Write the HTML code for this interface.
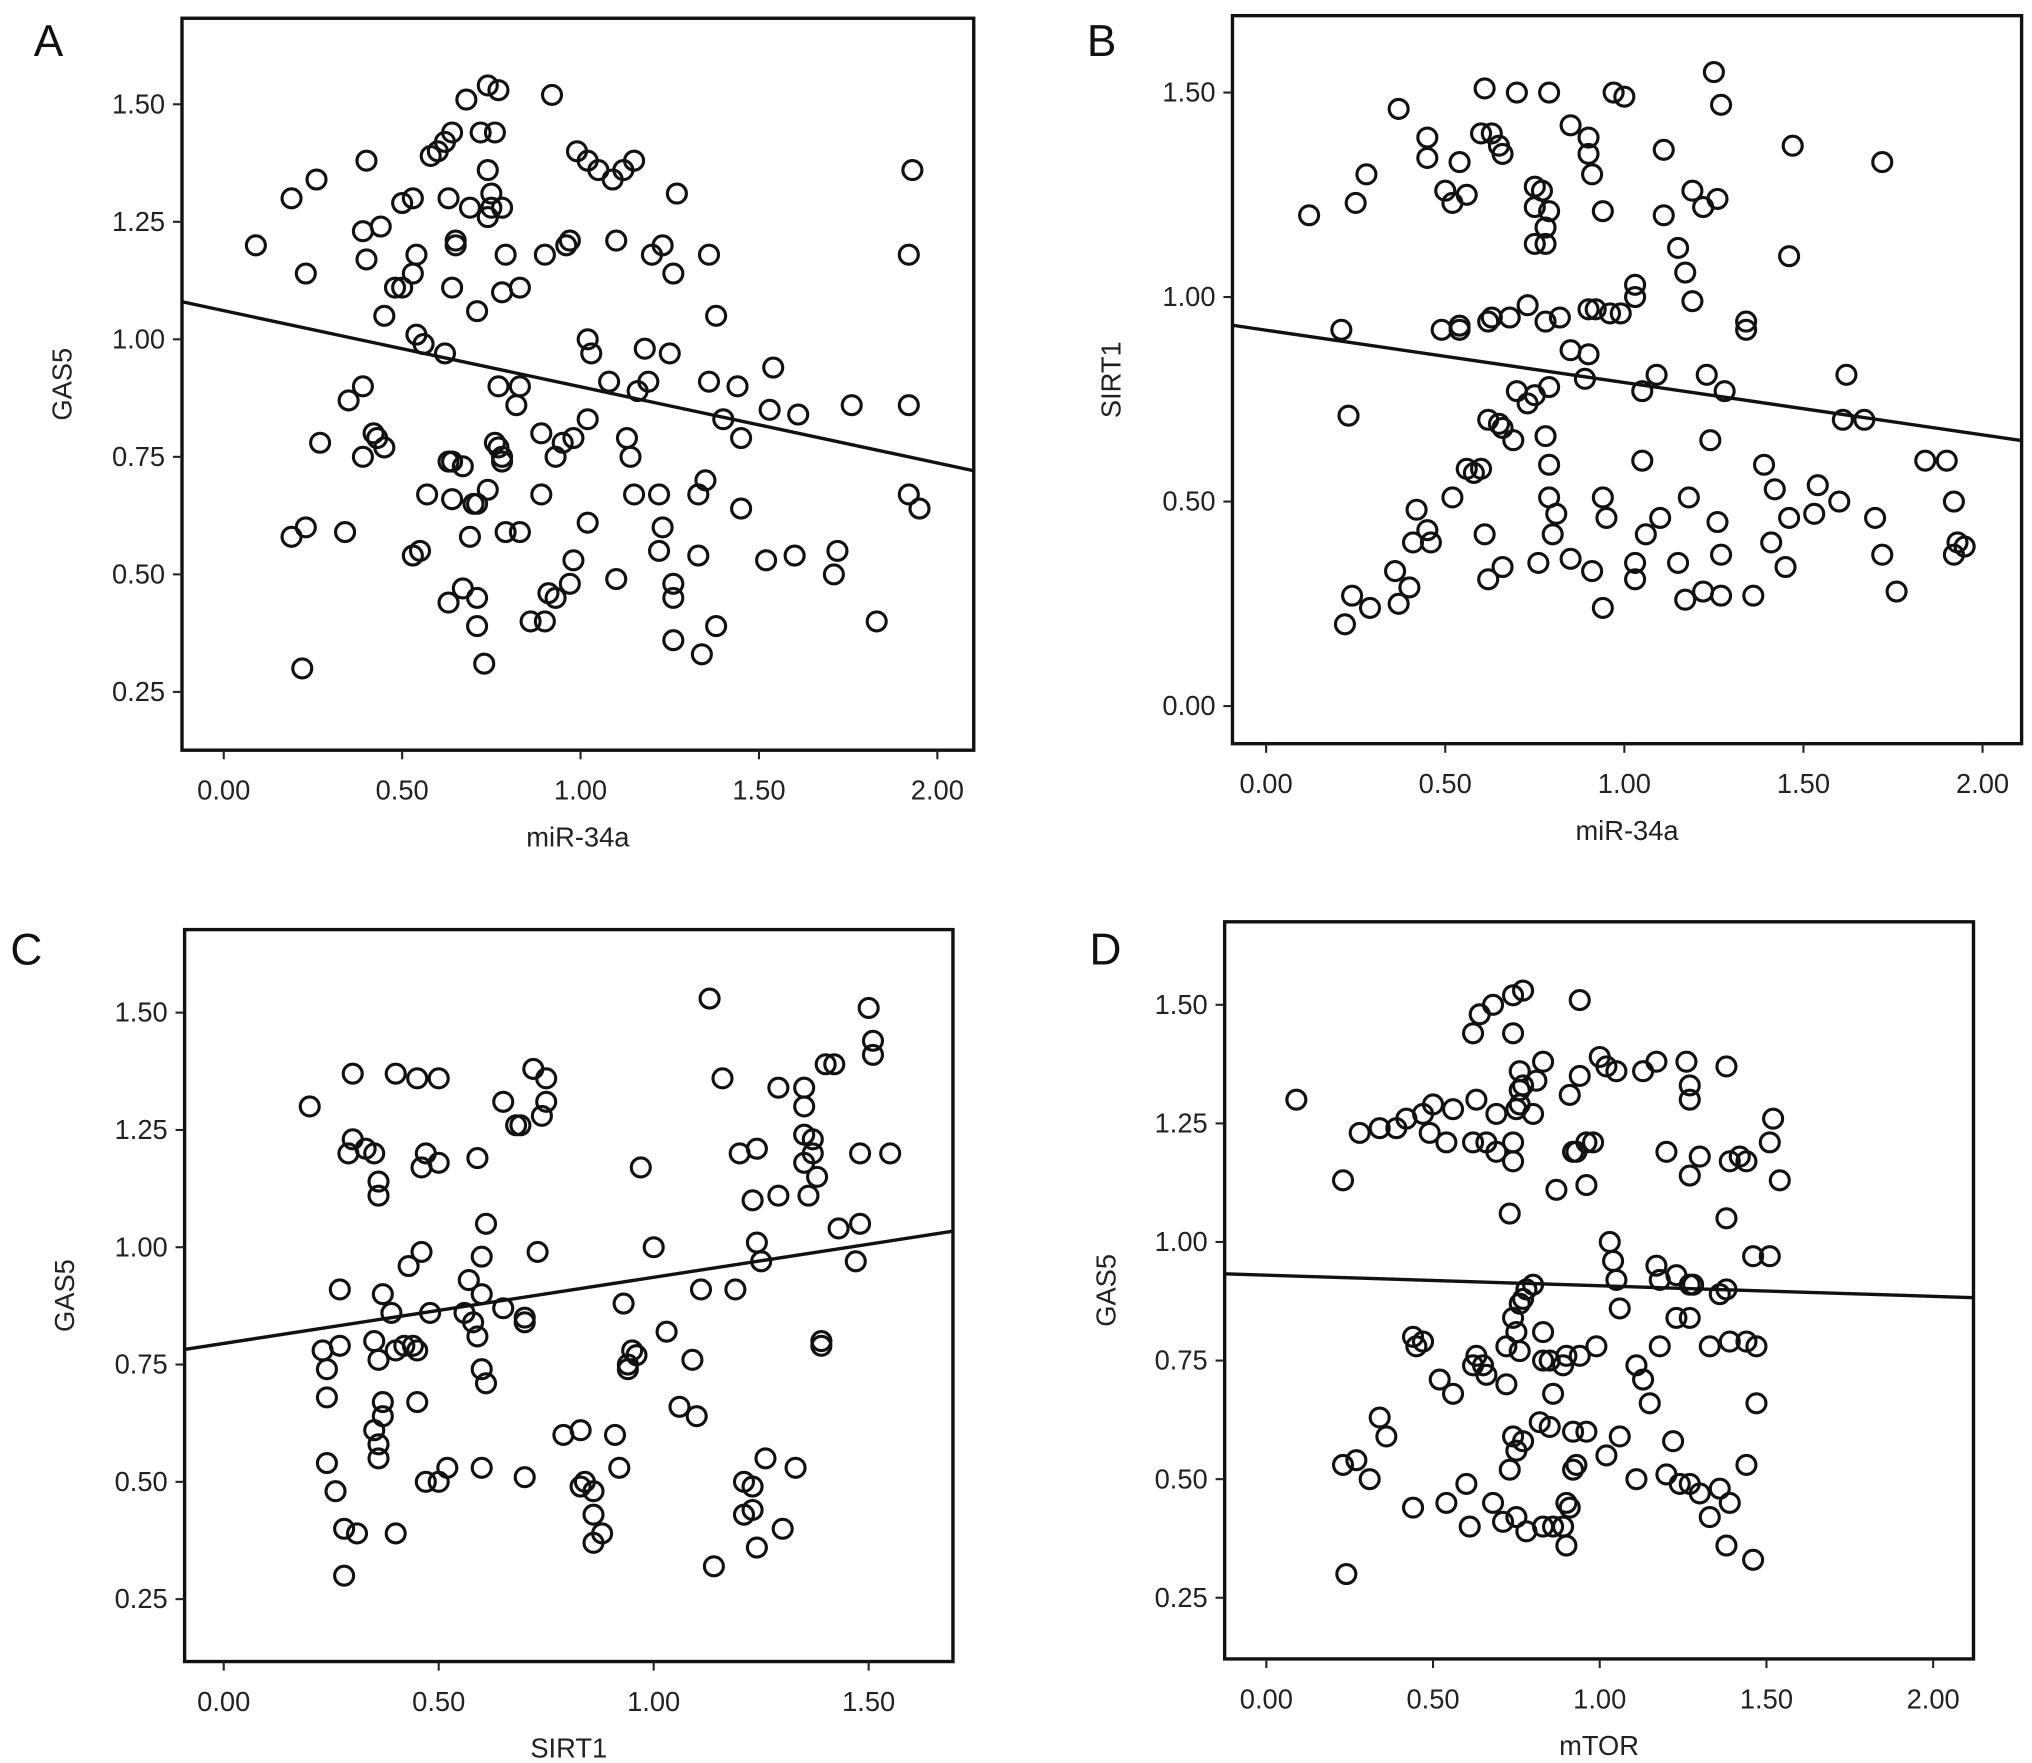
<!DOCTYPE html>
<html><head><meta charset="utf-8"><style>
html,body{margin:0;padding:0;background:#fff;}
svg{display:block;font-family:"Liberation Sans",Arial,sans-serif;}
</style></head><body>
<svg id="fig" xmlns="http://www.w3.org/2000/svg" width="2032" height="1763" viewBox="0 0 1563 1356">
<rect x="0" y="0" width="1563" height="1356" fill="#fff"/>
</svg>
<script>
// ---------- Panel A: GAS5 vs miR-34a ----------
const aX=[.09,.19,.26,.23,.40,.40,.39,.44,.45,.50,.48,.50,.53,.54,.53,.58,.60,.62,.64,.68,.74,.77,.72,.76,.74,.75,.75,.74,.78,.69,.63,.65,.65,.54,.56,.62,.64,.71,.78,.83,.77,.83,.79,.92,.99,1.02,1.05,1.09,1.15,1.12,.90,.96,.97,1.10,1.20,1.23,1.26,1.27,1.36,1.38,1.02,1.03,1.08,1.18,1.19,1.16,1.25,1.36,1.40,1.44,1.45,1.54,1.53,1.61,1.76,1.92,1.93,1.92,1.92,1.95,.39,.27,.35,.39,.42,.43,.45,.57,.63,.64,.67,.70,.74,.78,.76,.77,.78,.82,.89,.93,.95,.98,1.02,1.13,1.14,1.15,1.22,1.23,1.22,1.26,1.26,1.33,1.45,1.35,.89,.83,.79,.71,.69,.67,.64,.55,.53,.23,.19,.34,.22,.71,.71,.63,.73,.86,.90,.91,.93,.97,1.02,1.10,1.26,1.38,1.34,1.52,1.60,1.71,1.72,1.83,1.33,.98];
const aY=[1.20,1.30,1.34,1.14,1.38,1.17,1.23,1.24,1.05,1.11,1.11,1.29,1.30,1.18,1.14,1.39,1.40,1.42,1.44,1.51,1.54,1.53,1.44,1.44,1.36,1.31,1.28,1.26,1.28,1.28,1.30,1.21,1.20,1.01,.99,.97,1.11,1.06,1.10,1.11,.90,.90,1.18,1.52,1.40,1.38,1.36,1.34,1.38,1.36,1.18,1.20,1.21,1.21,1.18,1.20,1.14,1.31,1.18,1.05,1.00,.97,.91,.98,.91,.89,.97,.91,.83,.90,.79,.94,.85,.84,.86,1.18,1.36,.86,.67,.64,.75,.78,.87,.90,.80,.79,.77,.67,.74,.74,.73,.65,.68,.74,.78,.77,.75,.86,.80,.75,.78,.79,.83,.79,.75,.67,.67,.60,.55,.48,.45,.54,.64,.70,.67,.59,.59,.65,.58,.47,.66,.55,.54,.60,.58,.59,.30,.45,.39,.44,.31,.40,.40,.46,.45,.48,.61,.49,.36,.39,.33,.53,.54,.50,.55,.40,.67,.53];
// ---------- Panel B: SIRT1 vs miR-34a ----------
const bX=[.12,.21,.23,.25,.28,.22,.24,.29,.36,.37,.40,.41,.42,.45,.46,.37,.45,.45,.54,.50,.52,.56,.49,.54,.52,.56,.58,.60,.61,.60,.63,.65,.66,.70,.75,.75,.77,.78,.79,.78,.75,.79,.85,.90,.90,.91,.94,.97,1.00,1.03,1.03,1.09,1.05,.99,.96,.92,.90,.85,.90,.89,.82,.78,.73,.68,.63,.62,.54,.62,.70,.75,.73,.66,.69,.65,.79,.78,.79,.81,.79,.61,.62,.66,.76,.80,.85,.91,.95,.94,.94,1.06,1.03,1.03,1.10,1.18,1.15,1.17,1.22,1.05,1.11,1.15,1.11,1.17,1.19,1.19,1.22,1.25,1.27,1.26,1.23,1.24,1.28,1.34,1.34,1.26,1.27,1.27,1.36,1.39,1.41,1.42,1.45,1.47,1.46,1.46,1.54,1.53,1.60,1.62,1.61,1.70,1.72,1.72,1.67,1.84,1.76,1.92,1.92,1.93,1.95,1.90];
const bY=[1.20,.92,.71,1.23,1.30,.20,.27,.24,.33,.25,.29,.40,.48,.43,.40,1.46,1.39,1.34,1.33,1.26,1.23,1.25,.92,.92,.51,.58,.57,.58,1.51,1.40,1.40,1.37,1.35,1.50,1.27,1.22,1.26,1.17,1.21,1.13,1.13,1.50,1.42,1.39,1.35,1.30,1.21,1.50,1.49,1.03,1.00,.81,.77,.96,.96,.97,.97,.87,.86,.80,.95,.94,.98,.95,.95,.94,.93,.70,.77,.76,.74,.68,.65,.69,.78,.66,.59,.47,.51,.42,.31,.34,.35,.42,.36,.33,.46,.51,.24,.42,.31,.35,.46,.51,.35,.26,.28,.60,1.36,1.12,1.20,1.06,.99,1.26,1.22,1.55,1.47,1.24,.81,.65,.77,.94,.92,.45,.37,.27,.27,.59,.40,.53,.34,1.37,1.10,.46,.54,.47,.50,.81,.70,.46,1.33,.37,.70,.60,.28,.50,.37,.40,.39,.60];
// ---------- Panel C: GAS5 vs SIRT1 ----------
const cX=[.20,.23,.24,.24,.24,.26,.27,.27,.28,.28,.31,.30,.30,.29,.33,.35,.36,.36,.35,.36,.37,.36,.35,.36,.37,.37,.40,.40,.39,.42,.43,.44,.45,.45,.40,.45,.47,.46,.50,.50,.52,.47,.50,.56,.58,.60,.59,.60,.57,.60,.61,.59,.61,.60,.65,.68,.69,.65,.70,.70,.70,.72,.75,.75,.73,.74,.48,.46,.79,.83,.83,.84,.86,.86,.86,.91,.92,.88,.93,.94,.95,.96,.94,.97,1.00,1.03,1.06,1.10,1.09,1.13,1.16,1.19,1.11,1.14,1.21,1.23,1.21,1.23,1.24,1.25,1.24,1.26,1.20,1.23,1.24,1.30,1.29,1.33,1.35,1.35,1.35,1.37,1.35,1.38,1.37,1.36,1.40,1.42,1.43,1.48,1.48,1.50,1.51,1.51,1.55,1.47,1.39,1.39,1.29];
const cY=[1.30,.78,.74,.68,.54,.48,.79,.91,.40,.30,.39,1.37,1.23,1.20,1.21,1.20,1.14,1.11,.80,.76,.67,.58,.61,.55,.64,.90,.39,.78,.86,.79,.96,.79,.67,.78,1.37,1.36,1.20,1.17,1.36,1.18,.53,.50,.50,.86,.84,.74,.81,.90,.93,.98,1.05,1.19,.71,.53,1.31,1.26,1.26,.87,.85,.84,.51,1.38,1.36,1.31,.99,1.28,.86,.99,.60,.61,.49,.50,.48,.43,.37,.60,.53,.39,.88,.75,.78,.77,.74,1.17,1.00,.82,.66,.64,.76,1.53,1.36,.91,.91,.32,.50,.49,.43,.44,.36,.97,1.21,.55,1.20,1.10,1.01,.40,1.34,.53,1.34,1.30,1.24,1.20,1.18,1.15,1.23,1.11,1.39,1.39,1.04,1.05,1.20,1.51,1.44,1.41,1.20,.97,.80,.79,1.11];
// ---------- Panel D: GAS5 vs mTOR ----------
const dX=[.09,.23,.28,.34,.39,.42,.47,.50,.49,.54,.56,.63,.62,.66,.69,.74,.69,.73,.74,.62,.64,.68,.74,.77,.74,.76,.76,.76,.81,.83,.77,.75,.80,.91,.94,.94,.93,.96,.98,.92,.87,.96,1.00,1.02,1.05,1.03,1.04,1.13,1.17,1.26,1.27,1.27,1.20,1.27,1.38,1.30,1.39,1.38,1.44,1.52,1.51,1.54,1.51,1.42,1.47,1.44,1.39,1.33,1.27,1.23,1.18,1.15,1.13,1.11,1.06,1.05,1.17,1.18,1.23,1.27,1.28,1.36,1.38,1.46,1.47,1.44,1.36,1.39,1.38,1.46,1.33,1.30,1.22,1.20,1.24,1.27,1.11,1.06,1.02,.96,.92,.91,.89,.90,.86,.83,.90,.78,.75,.71,.68,.61,.54,.44,.36,.34,.31,.27,.24,.23,.45,.44,.47,.52,.56,.60,.62,.65,.72,.74,.75,.76,.76,.77,.78,.80,.83,.85,.83,.89,.90,.94,.99,.85,.75,.74,.77,.82,.86,.73,.72,.66,.63,.92,.93];
const dY=[1.30,1.13,1.23,1.24,1.24,1.26,1.27,1.29,1.23,1.21,1.28,1.30,1.21,1.21,1.19,1.21,1.27,1.06,1.17,1.44,1.48,1.50,1.52,1.53,1.44,1.36,1.32,1.29,1.34,1.38,1.33,1.28,1.27,1.31,1.51,1.35,1.19,1.21,1.21,1.19,1.11,1.12,1.39,1.37,1.36,1.00,.96,1.36,1.38,1.38,1.33,1.30,1.19,1.14,1.37,1.18,1.17,1.05,1.17,1.26,1.21,1.13,.97,1.18,.78,.79,.79,.78,.84,.84,.78,.66,.71,.74,.86,.92,.95,.92,.93,.91,.91,.89,.90,.97,.66,.53,.48,.45,.36,.33,.42,.47,.58,.51,.49,.49,.50,.59,.55,.60,.52,.44,.40,.36,.40,.40,.45,.39,.42,.41,.45,.40,.45,.44,.59,.63,.50,.54,.30,.53,.78,.80,.79,.71,.68,.49,.74,.74,.78,.84,.81,.77,.87,.88,.90,.91,.81,.75,.75,.74,.76,.76,.78,.61,.56,.59,.58,.62,.68,.52,.70,.72,.76,.60,.53];

// ---------- regression fits (intercept, slope) ----------
const fitIntercepts=[1.061,0.919,0.795,0.930];
const fitSlopes=[-0.162,-0.128,0.141,-0.0223];
const xTicksA=[0,0.5,1,1.5,2], xTickLabelsA=["0.00","0.50","1.00","1.50","2.00"];
const xTicksC=[0,0.5,1,1.5], xTickLabelsC=["0.00","0.50","1.00","1.50"];
const yTicksGAS=[0.25,0.5,0.75,1,1.25,1.5], yTickLabelsGAS=["0.25","0.50","0.75","1.00","1.25","1.50"];
const yTicksSIRT=[0,0.5,1,1.5], yTickLabelsSIRT=["0.00","0.50","1.00","1.50"];
const xTitles=["miR-34a","miR-34a","SIRT1","mTOR"];
const yTitles=["GAS5","SIRT1","GAS5","GAS5"];
const letters=["A","B","C","D"];

const NS="http://www.w3.org/2000/svg";
const svg=document.getElementById('fig');
function mk(tag,attrs,parent){const e=document.createElementNS(NS,tag);for(const k in attrs)e.setAttribute(k,attrs[k]);(parent||svg).appendChild(e);return e;}

const panels=[
 {box:[140,14,749,577],xd:[-0.117,2.102],yd:[0.126,1.683],xs:aX,ys:aY,xt:xTicksA,xl:xTickLabelsA,yt:yTicksGAS,yl:yTickLabelsGAS,lx:26,ly:43,ytx:55},
 {box:[948,12,1555,572],xd:[-0.094,2.109],yd:[-0.092,1.688],xs:bX,ys:bY,xt:xTicksA,xl:xTickLabelsA,yt:yTicksSIRT,yl:yTickLabelsSIRT,lx:836,ly:43,ytx:862},
 {box:[142,715,733,1278],xd:[-0.091,1.696],yd:[0.117,1.677],xs:cX,ys:cY,xt:xTicksC,xl:xTickLabelsC,yt:yTicksGAS,yl:yTickLabelsGAS,lx:8,ly:742,ytx:57},
 {box:[942,709,1518,1276],xd:[-0.125,2.121],yd:[0.121,1.675],xs:dX,ys:dY,xt:xTicksA,xl:xTickLabelsA,yt:yTicksGAS,yl:yTickLabelsGAS,lx:838,ly:742,ytx:858}
];

panels.forEach((p,i)=>{
  const [x0,y0,x1,y1]=p.box;
  const sx=v=>x0+(v-p.xd[0])/(p.xd[1]-p.xd[0])*(x1-x0);
  const sy=v=>y1-(v-p.yd[0])/(p.yd[1]-p.yd[0])*(y1-y0);
  const g=mk('g',{});
  
  
  const lt=mk('text',{x:p.lx,y:p.ly,'font-size':34,fill:'#111'},g);lt.textContent=letters[i];
  
  
  const fr=mk('rect',{x:x0,y:y0,width:x1-x0,height:y1-y0,fill:'none',stroke:'#111','stroke-width':2.6},g);
  
  
  p.yt.forEach((v,k)=>{
    const y=sy(v);
    const t=mk('line',{x1:x0-7,x2:x0,y1:y,y2:y,stroke:'#222','stroke-width':1.6},g);
    
    
    const tx=mk('text',{x:x0-13,y:y+7,'font-size':21,'text-anchor':'end',fill:'#222'},g);tx.textContent=p.yl[k];
    
    
  });
  p.xt.forEach((v,k)=>{
    const x=sx(v);
    const t=mk('line',{x1:x,x2:x,y1:y1,y2:y1+7,stroke:'#222','stroke-width':1.6},g);
    
    
    const tx=mk('text',{x:x,y:y1+38,'font-size':21,'text-anchor':'middle',fill:'#222'},g);tx.textContent=p.xl[k];
    
    
  });
  const xt=mk('text',{x:(x0+x1)/2,y:y1+74,'font-size':21,'text-anchor':'middle',fill:'#222'},g);xt.textContent=xTitles[i];
  
  
  const yc=(y0+y1)/2;
  const yti=mk('text',{x:p.ytx,y:yc,'font-size':21,'text-anchor':'middle',fill:'#222',transform:`rotate(-90 ${p.ytx} ${yc})`},g);yti.textContent=yTitles[i];
  
  
  p.xs.forEach((v,k)=>{
    const c=mk('circle',{cx:sx(v),cy:sy(p.ys[k]),r:7.3,fill:'none',stroke:'#111','stroke-width':2.4},g);
    
    
  });
  const b=fitIntercepts[i],m=fitSlopes[i];
  const fl=mk('line',{x1:sx(p.xd[0]),y1:sy(b+m*p.xd[0]),x2:sx(p.xd[1]),y2:sy(b+m*p.xd[1]),stroke:'#111','stroke-width':2.6},g);
  
  
});
</script>
</body></html>
